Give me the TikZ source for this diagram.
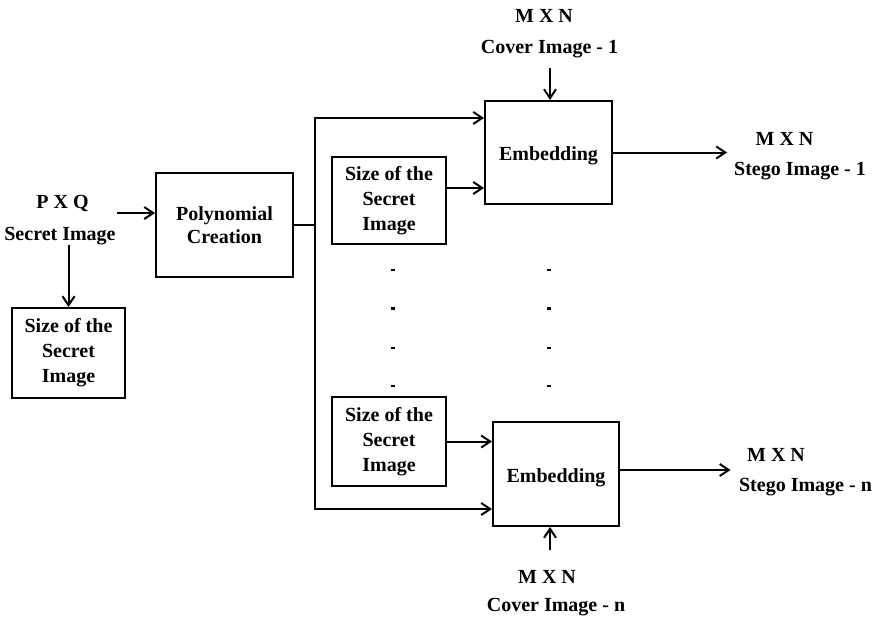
\documentclass[tikz,border=0pt]{standalone}
\usepackage{fontspec}
\setmainfont{Liberation Serif}
\usetikzlibrary{arrows.meta}
\begin{document}
\begin{tikzpicture}[x=1pt,y=-1pt,
  every node/.style={font=\fontsize{20}{25}\selectfont\bfseries},
  lbl/.style={anchor=base,inner sep=0pt},
  blk/.style={draw,line width=2pt,inner sep=0pt,align=center},
  sizebox/.style={blk,minimum width=114pt,minimum height=89pt},
  embbox/.style={blk,minimum width=126pt,minimum height=104pt,text height=16.4pt,text depth=0pt},
  conn/.style={line width=2pt},
  arr/.style={conn,-{Straight Barb[length=9pt,width=12pt]}},
  dot/.style={fill=black}]
\useasboundingbox (0,0) rectangle (880,621);

% left column: secret image and its size
\node[lbl] (pxq) at (62.5,208) {P X Q};
\node[lbl] (secret) at (60,240) {Secret Image};
\node[sizebox,minimum width=113pt,minimum height=90pt] (sizeL) at (68.5,353) {Size of the\\Secret\\Image};

% polynomial creation
\node[blk,minimum width=137pt,minimum height=104pt,font=\fontsize{20}{23.5}\selectfont\bfseries] (poly) at (224.5,225) {Polynomial\\Creation};

% upper embedding branch
\node[sizebox,minimum height=87pt] (size1) at (389,200.5) {Size of the\\Secret\\Image};
\node[embbox,minimum width=127pt,minimum height=103pt] (emb1) at (548.5,152.5) {Embedding};
\node[lbl] (cov1a) at (544,22) {M X N};
\node[lbl] (cov1b) at (549.5,53) {Cover Image - 1};
\node[lbl] (st1a) at (784.5,145) {M X N};
\node[lbl] (st1b) at (800,175) {Stego Image - 1};

% lower embedding branch
\node[sizebox] (sizen) at (389,441.5) {Size of the\\Secret\\Image};
\node[embbox] (embn) at (556,474) {Embedding};
\node[lbl] (covna) at (547,583) {M X N};
\node[lbl] (covnb) at (556,611.7) {Cover Image - n};
\node[lbl] (stna) at (776,461.7) {M X N};
\node[lbl] (stnb) at (805.5,491.7) {Stego Image - n};

% free ends of connectors
\coordinate (sa) at (117,213);
\coordinate (tt) at (315,118);
\coordinate (tb) at (315,509);
\coordinate (c1) at (550,68);
\coordinate (cn) at (550,550);
\coordinate (o1) at (727,152.5);
\coordinate (on) at (730.5,470);

% connectors
\draw[arr] (sa) -- (sa -| poly.west);
\draw[arr] (secret.south -| sizeL.north) -- (sizeL.north);
\draw[conn] (poly.east) -- (poly.east -| tt);
\draw[conn,line cap=rect] (tt) -- (tb);
\draw[arr] (tt) -- (tt -| emb1.west);
\draw[arr] (tb) -- (tb -| embn.west);
\draw[arr] ([yshift=12.5pt]size1.east) coordinate (s1) -- (s1 -| emb1.west);
\draw[arr] (sizen.east) -- (sizen.east -| embn.west);
\draw[arr] (c1) -- (c1 |- emb1.north);
\draw[arr] (cn) -- (cn |- embn.south);
\draw[arr] (emb1.east) -- (o1);
\draw[arr] ([yshift=4pt]embn.east) -- (on);

% ellipsis marks between the branches
\foreach \yy in {270,308.3,347.7,386} {
  \fill[dot] (391.3,\yy-1.2) rectangle (395.3,\yy+1.2);
  \fill[dot] (547.3,\yy-1.2) rectangle (551.3,\yy+1.2);
}
\end{tikzpicture}
\end{document}
